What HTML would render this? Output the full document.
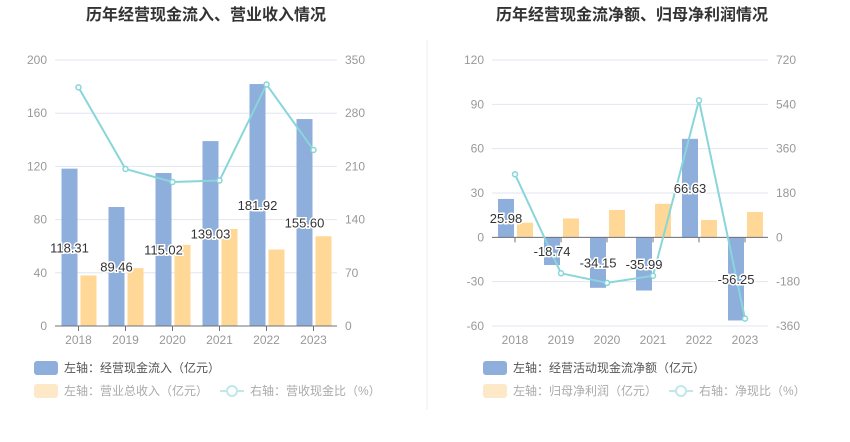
<!DOCTYPE html>
<html><head><meta charset="utf-8"><style>
body{margin:0;background:#fff;font-family:"Liberation Sans","Noto Sans CJK SC",sans-serif;}
svg text{font-family:"Liberation Sans","Noto Sans CJK SC",sans-serif;}
</style></head><body>
<svg id="s" width="850" height="437" xmlns="http://www.w3.org/2000/svg">
<text x="206" y="20" text-anchor="middle" font-size="16" font-weight="bold" fill="#333">历年经营现金流入、营业收入情况</text>
<text x="632" y="20" text-anchor="middle" font-size="16" font-weight="bold" fill="#333">历年经营现金流净额、归母净利润情况</text>
<line x1="427" y1="40" x2="427" y2="410" stroke="#eee"/>
<g id="L"></g>
<g id="R"></g>
<g>
<rect x="34" y="361" width="24" height="14" rx="3" fill="#8eaedb"/>
<text x="64" y="372" font-size="12" fill="#555">左轴：经营现金流入（亿元）</text>
<rect x="34" y="384" width="24" height="14" rx="3" fill="#fde8c8"/>
<text x="64" y="395" font-size="12" fill="#aaa">左轴：营业总收入（亿元）</text>
<line x1="220" y1="391" x2="244" y2="391" stroke="#bfe8ea" stroke-width="2"/>
<circle cx="232" cy="391" r="5" fill="#fff" stroke="#bfe8ea" stroke-width="2"/>
<text x="250" y="395" font-size="12" fill="#aaa">右轴：营收现金比（%）</text>
</g>
<g>
<rect x="483" y="361" width="24" height="14" rx="3" fill="#8eaedb"/>
<text x="513" y="372" font-size="12" fill="#555">左轴：经营活动现金流净额（亿元）</text>
<rect x="483" y="384" width="24" height="14" rx="3" fill="#fde8c8"/>
<text x="513" y="395" font-size="12" fill="#aaa">左轴：归母净利润（亿元）</text>
<line x1="669" y1="391" x2="693" y2="391" stroke="#bfe8ea" stroke-width="2"/>
<circle cx="681" cy="391" r="5" fill="#fff" stroke="#bfe8ea" stroke-width="2"/>
<text x="699" y="395" font-size="12" fill="#aaa">右轴：净现比（%）</text>
</g>
</svg>
<script>
const years=["2018","2019","2020","2021","2022","2023"];
const inflow=[118.31,89.46,115.02,139.03,181.92,155.60];
const revenue=[38,43.5,61,73,57.5,67.5];
const cashRatio=[314,206.6,189.5,191.4,317.8,231.6];
const leftTicks=[0,40,80,120,160,200];
const leftRTicks=[0,70,140,210,280,350];
const netflow=[25.98,-18.74,-34.15,-35.99,66.63,-56.25];
const profit=[9.9,12.8,18.5,22.7,11.7,17.1];
const netRatio=[256,-146,-185,-156,556,-330];
const rightTicks=[-60,-30,0,30,60,90,120];
const rightRTicks=[-360,-180,0,180,360,540,720];
const NS="http://www.w3.org/2000/svg";
function mk(p,t,a){const e=document.createElementNS(NS,t);for(const k in a)e.setAttribute(k,a[k]);p.appendChild(e);return e;}
function chart(g,cfg){
 const {x0,x1,yTop,yBot,lmin,lmax,rmin,rmax,lt,rt,b1,b2,ln,prefix}=cfg;
 const yL=v=>yBot-(v-lmin)/(lmax-lmin)*(yBot-yTop);
 const yR=v=>yBot-(v-rmin)/(rmax-rmin)*(yBot-yTop);
 const bw=(x1-x0)/years.length;const xc=i=>x0+bw*(i+0.5);
 lt.forEach((t,i)=>{const y=yL(t);
  const l=mk(g,'line',{x1:x0,x2:x1,y1:y,y2:y,stroke:'#e0e6f1'});
  
  const a=mk(g,'text',{x:x0-8,y:y+4,'text-anchor':'end','font-size':12,fill:'#999'});a.textContent=t;
  
  const b=mk(g,'text',{x:x1+8,y:y+4,'font-size':12,fill:'#999'});b.textContent=rt[i];
  });
 const y0=yL(0);
 years.forEach((yr,i)=>{
  const c=xc(i);
  const v=b1[i];const r1=mk(g,'rect',{x:c-17,y:Math.min(yL(v),y0),width:16,height:Math.abs(yL(v)-y0),fill:'#8eaedb'});
  
  const w=b2[i];const r2=mk(g,'rect',{x:c+2,y:Math.min(yL(w),y0),width:16,height:Math.abs(yL(w)-y0),fill:'#ffd796'});
  
  const t=mk(g,'text',{x:c,y:yBot+18,'text-anchor':'middle','font-size':12,fill:'#999'});t.textContent=yr;
  
  const tk=mk(g,'line',{x1:c,x2:c,y1:y0,y2:y0+5,stroke:'#6e7079'});
  
 });
 const ax=mk(g,'line',{x1:x0,x2:x1,y1:y0,y2:y0,stroke:'#6e7079'});
 
 const pts=ln.map((v,i)=>xc(i)+','+yR(v)).join(' ');
 const pl=mk(g,'polyline',{points:pts,fill:'none',stroke:'#88d6d9','stroke-width':2});
 
 ln.forEach((v,i)=>{const c=mk(g,'circle',{cx:xc(i),cy:yR(v),r:2.5,fill:'#fff',stroke:'#88d6d9','stroke-width':1.5});
  });
 b1.forEach((v,i)=>{const yy=(yL(v)+y0)/2+5;
  const t=mk(g,'text',{x:xc(i)-9,y:yy,'text-anchor':'middle','font-size':13,fill:'#333',stroke:'#fff','stroke-width':3,'paint-order':'stroke'});
  t.textContent=v.toFixed(2);});
}
chart(document.getElementById('L'),{x0:55,x1:337,yTop:60,yBot:326,lmin:0,lmax:200,rmin:0,rmax:350,lt:leftTicks,rt:leftRTicks,b1:inflow,b2:revenue,ln:cashRatio,prefix:'left'});
chart(document.getElementById('R'),{x0:492,x1:768,yTop:60,yBot:326,lmin:-60,lmax:120,rmin:-360,rmax:720,lt:rightTicks,rt:rightRTicks,b1:netflow,b2:profit,ln:netRatio,prefix:'right'});
</script>
</body></html>
